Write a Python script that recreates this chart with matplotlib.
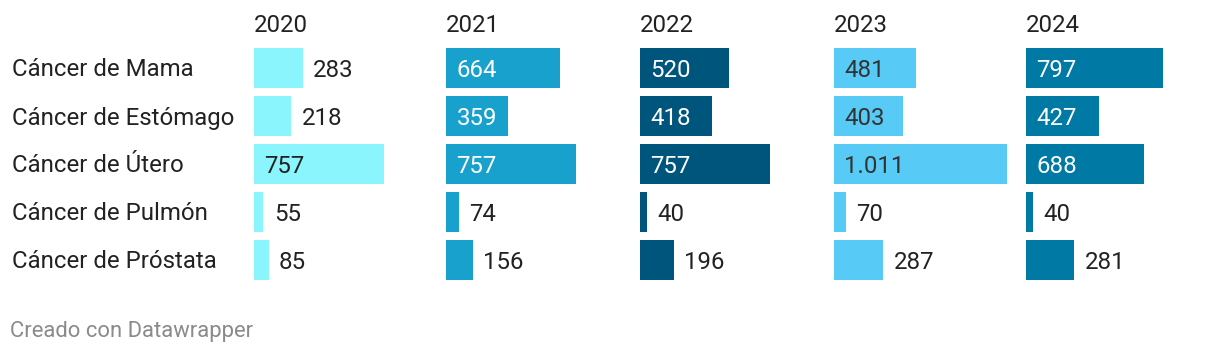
import matplotlib
matplotlib.use("Agg")
import matplotlib.pyplot as plt

plt.rcParams['font.family'] = ['Roboto', 'DejaVu Sans']

## data
categories = ["Cáncer de Mama", "Cáncer de Estómago", "Cáncer de Útero",
              "Cáncer de Pulmón", "Cáncer de Próstata"]
years = ["2020", "2021", "2022", "2023", "2024"]
v2020 = [283, 218, 757, 55, 85]
v2021 = [664, 359, 757, 74, 156]
v2022 = [520, 418, 757, 40, 196]
v2023 = [481, 403, 1011, 70, 287]
v2024 = [797, 427, 688, 40, 281]
values = [v2020, v2021, v2022, v2023, v2024]

colors = ["#8af5fd", "#18a1cd", "#00557c", "#58caf6", "#0079a5"]
inside_text = ["#222222", "#ffffff", "#ffffff", "#333333", "#ffffff"]

W, H = 1220, 356
fig = plt.figure(figsize=(W / 100, H / 100), dpi=100)

col_x = [254, 446, 640, 834, 1026]
col_w = 185
top, pitch = 44, 48
px_per_unit = 0.1715
xmax = col_w / px_per_unit
fs = 17.3

def fmt(v):
    return f"{v:,}".replace(",", ".")

for j, year in enumerate(years):
    ax = fig.add_axes([col_x[j] / W, 1 - (top + 5 * pitch) / H, col_w / W, 5 * pitch / H])
    ax.barh(range(5), values[j], height=40 / 48, color=colors[j])
    ax.set_xlim(0, xmax)
    ax.set_ylim(4.5, -0.5)
    ax.axis("off")
    for i, v in enumerate(values[j]):
        if v * px_per_unit > 55:
            ax.annotate(fmt(v), (0, i), xytext=(7.5, -1.5), textcoords="offset points",
                        va="center", ha="left", fontsize=fs, color=inside_text[j])
        else:
            ax.annotate(fmt(v), (v, i), xytext=(7.5, -1.5), textcoords="offset points",
                        va="center", ha="left", fontsize=fs, color="#222222")
    fig.text(col_x[j] / W, 1 - 25 / H, year, fontsize=fs, color="#222222",
             va="center", ha="left")

for i, c in enumerate(categories):
    fig.text(12 / W, 1 - (70 + pitch * i) / H, c, fontsize=fs, color="#222222",
             va="center", ha="left")

fig.text(10 / W, 1 - 332 / H, "Creado con Datawrapper", fontsize=15.8,
         color="#8a8a8a", va="center", ha="left")

fig.savefig("out.png", dpi=100)
